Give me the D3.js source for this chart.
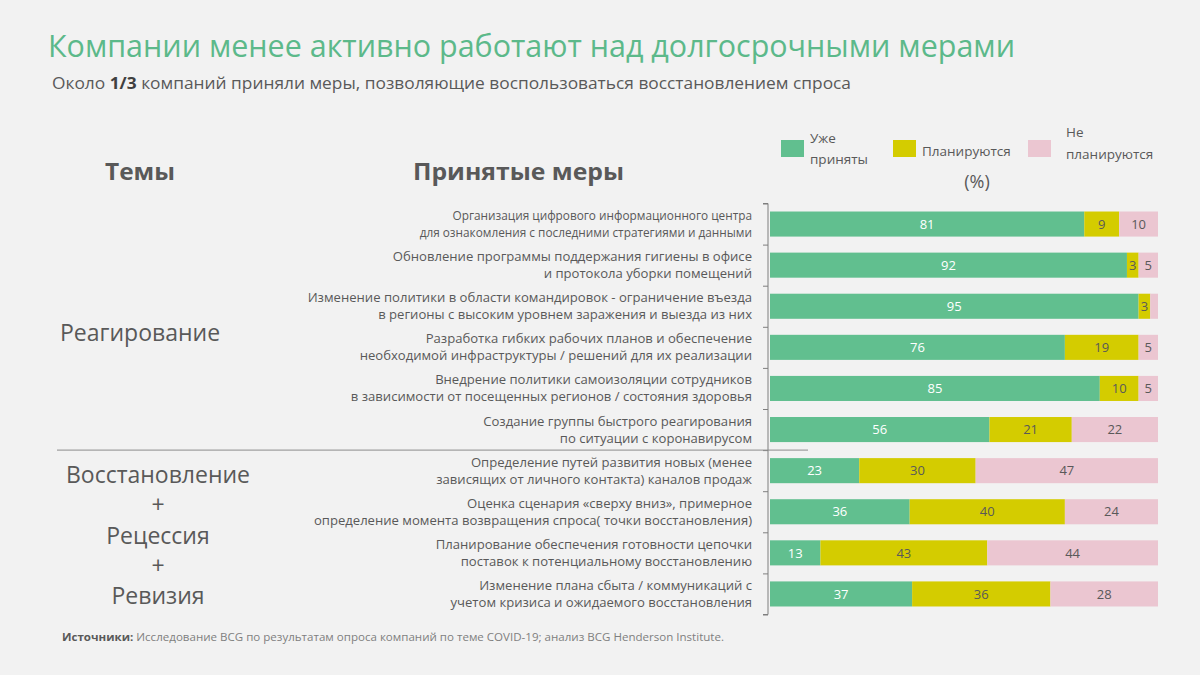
<!DOCTYPE html>
<html><head><meta charset="utf-8">
<script src="https://cdn.jsdelivr.net/npm/d3@7"></script>
<style>
body{margin:0;background:#f2f2f2;}
svg{display:block;}
text{font-family:"Open Sans","Noto Sans",sans-serif;}
</style></head>
<body>
<svg id="chart" width="1200" height="675"></svg>
<script>
const categories = [
  ["Организация цифрового информационного центра","для ознакомления  с последними стратегиями и данными"],
  ["Обновление программы поддержания гигиены в офисе","и протокола уборки помещений"],
  ["Изменение политики в области командировок - ограничение въезда","в регионы с  высоким уровнем  заражения и выезда из них"],
  ["Разработка гибких рабочих планов и обеспечение","необходимой инфраструктуры / решений  для их реализации"],
  ["Внедрение политики самоизоляции сотрудников","в зависимости от посещенных регионов /  состояния здоровья"],
  ["Создание группы быстрого реагирования","по  ситуации с коронавирусом"],
  ["Определение путей развития новых (менее","зависящих от личного контакта) каналов продаж"],
  ["Оценка сценария «сверху вниз», примерное","определение момента возвращения спроса( точки восстановления)"],
  ["Планирование обеспечения готовности цепочки","поставок к потенциальному восстановлению"],
  ["Изменение плана сбыта  /  коммуникаций с","учетом кризиса и ожидаемого восстановления"]
];
const adopted  = [81, 92, 95, 76, 85, 56, 23, 36, 13, 37];
const planned  = [ 9,  3,  3, 19, 10, 21, 30, 40, 43, 36];
const notPlan  = [10,  5,  2,  5,  5, 22, 47, 24, 44, 28];
const seriesNames = ["Уже приняты", "Планируются", "Не планируются"];
const themes = [["Реагирование"], ["Восстановление","+","Рецессия","+","Ревизия"]];
const title = "Компании менее активно работают над долгосрочными мерами";
const footnoteBold = "Источники:";
const footnote = " Исследование  BCG по результатам  опроса компаний  по теме COVID-19; анализ BCG Henderson Institute.";

const colors = ["#61bf8f", "#d4cc00", "#ebc6d1"];
const keys = ["a","p","n"];
const gray = "#595959";
const svg = d3.select("#chart");
svg.append("rect").attr("width",1200).attr("height",675).attr("fill","#f2f2f2");

// Title
svg.append("text").attr("x",48).attr("y",57).attr("fill","#5cb98a")
  .attr("font-size",31).attr("textLength",967).attr("lengthAdjust","spacingAndGlyphs").text(title);
const sub = svg.append("text").attr("x",52).attr("y",89).attr("fill",gray).attr("font-size",16.5)
  .attr("textLength",799).attr("lengthAdjust","spacingAndGlyphs");
sub.append("tspan").text("Около ");
sub.append("tspan").attr("font-weight","bold").attr("fill","#404040").text("1/3");
sub.append("tspan").text(" компаний  приняли  меры, позволяющие  воспользоваться  восстановлением  спроса");

// Headers
svg.append("text").attr("x",105).attr("y",180).attr("fill",gray).attr("font-size",24).attr("font-weight","bold")
  .attr("textLength",70).attr("lengthAdjust","spacingAndGlyphs").text("Темы");
svg.append("text").attr("x",413).attr("y",180).attr("fill",gray).attr("font-size",24).attr("font-weight","bold")
  .attr("textLength",211).attr("lengthAdjust","spacingAndGlyphs").text("Принятые меры");

// Data
const rows = categories.map((c,i)=>({i, a:adopted[i], p:planned[i], n:notPlan[i]}));
const stack = d3.stack().keys(keys).offset(d3.stackOffsetExpand);
const stacked = stack(rows);

const x = d3.scaleLinear().domain([0,1]).range([770,1158]);
const y = d3.scaleBand().domain(d3.range(categories.length)).range([203.5,614.5]).paddingInner(0.39).paddingOuter(0.195);
const yEdge = d3.scaleLinear().domain([0,categories.length]).range([203.5,614.5]);

// axis with boundary ticks
const axis = d3.axisLeft(yEdge).tickValues(d3.range(categories.length+1)).tickSize(5).tickFormat("");
const ag = svg.append("g").attr("transform","translate(768,0)").call(axis);
ag.selectAll("path,line").attr("stroke","#7f7f7f").attr("stroke-width",1);
ag.select(".domain").attr("d", `M-5,${yEdge(0)}H0V${yEdge(categories.length)}H-5`);

// separator
svg.append("line").attr("x1",57).attr("x2",808).attr("y1",yEdge(6)).attr("y2",yEdge(6))
  .attr("stroke","#8c8c8c").attr("stroke-width",1);

// bars
const g = svg.append("g");
stacked.forEach((s,si)=>{
  g.selectAll(null).data(s).enter().append("rect")
    .attr("x",d=>x(d[0])).attr("width",d=>x(d[1])-x(d[0]))
    .attr("y",d=>y(d.data.i)).attr("height",y.bandwidth())
    .attr("fill",colors[si]);
  g.selectAll(null).data(s.filter(d=>d.data[keys[si]]>=3)).enter().append("text")
    .attr("x",d=>(x(d[0])+x(d[1]))/2).attr("y",d=>y(d.data.i)+y.bandwidth()/2)
    .attr("dy","0.36em").attr("text-anchor","middle").attr("font-size",13)
    .attr("fill", si===0 ? "#ffffff" : gray)
    .text(d=>d.data[keys[si]]);
});

// category labels
categories.forEach((lines,i)=>{
  const cy = y(i)+y.bandwidth()/2;
  const t = svg.append("text").attr("text-anchor","end").attr("fill",gray)
    .attr("font-size", i===0 ? 11.8 : 13.1);
  lines.forEach((l,li)=>{
    t.append("tspan").attr("x",752).attr("y",cy + (li===0 ? -4 : 13)).text(l);
  });
});

// themes
svg.append("text").attr("x",60).attr("y",341).attr("fill",gray).attr("font-size",23).text(themes[0][0]);
themes[1].forEach((t,i)=>{
  svg.append("text").attr("x",158).attr("y",483+i*30.3).attr("text-anchor","middle")
    .attr("fill",gray).attr("font-size",23).text(t);
});

// legend
const legend = [
  {sx:781, lines:["Уже","приняты"], tx:810, ty:[143,164]},
  {sx:893, lines:["Планируются"], tx:922, ty:[156]},
  {sx:1028, lines:["Не","планируются"], tx:1066, ty:[137,159]}
];
legend.forEach((l,i)=>{
  svg.append("rect").attr("x",l.sx).attr("y",140).attr("width",23).attr("height",17).attr("fill",colors[i]);
  const t = svg.append("text").attr("fill",gray).attr("font-size",13.5);
  l.lines.forEach((ln,j)=>t.append("tspan").attr("x",l.tx).attr("y",l.ty[j]).text(ln));
});
svg.append("text").attr("x",977).attr("y",188).attr("text-anchor","middle").attr("fill",gray).attr("font-size",18).text("(%)");

// footnote
const fn = svg.append("text").attr("x",62).attr("y",641).attr("font-size",11.3).attr("fill","#7f7f7f")
  .attr("textLength",662).attr("lengthAdjust","spacingAndGlyphs");
fn.append("tspan").attr("font-weight","bold").attr("fill",gray).text(footnoteBold);
fn.append("tspan").text(footnote);
</script>
</body></html>
